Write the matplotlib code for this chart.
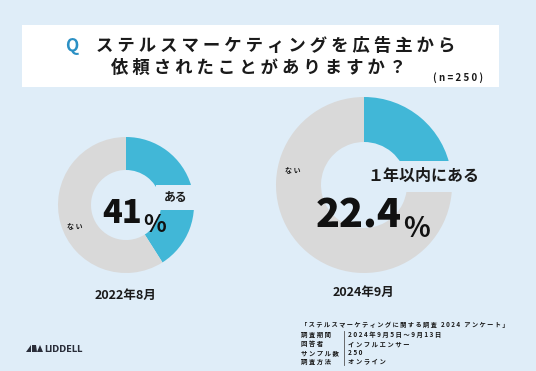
import matplotlib.pyplot as plt
from matplotlib.patches import Rectangle

plt.rcParams['font.family'] = ['Noto Sans CJK JP', 'DejaVu Sans']

# データ
labels = ['ある', 'ない']
vals_2022 = [41, 59]
vals_2024 = [22.4, 77.6]
periods = ['2022年8月', '2024年9月']
survey_title = '「ステルスマーケティングに関する調査 2024 アンケート」'
survey_keys = ['調査期間', '回答者', 'サンプル数', '調査方法']
survey_vals = ['2024年9月5日～9月13日', 'インフルエンサー', '250', 'オンライン']

bg = '#dfedf8'
blue = '#41b7d7'
gray = '#d9d9d9'
ink = '#1a1a1a'

W, H = 536, 371
def Y(y):
    return H - y

def spaced(s):
    # 字間を空ける
    return ' '.join(s)

fig = plt.figure(figsize=(W / 100, H / 100), dpi=100, facecolor=bg)
ax = fig.add_axes([0, 0, 1, 1])
ax.set_facecolor(bg)

# タイトル
ax.add_patch(Rectangle((22, Y(87)), 477, 62, facecolor='white', edgecolor='none'))
ax.text(72, Y(46), 'Q', color='#2b90c4', fontsize=12.5, fontweight='bold',
        ha='center', va='center')
ax.text(96, Y(46), spaced('ステルスマーケティングを広告主から'), color=ink,
        fontsize=12.5, fontweight='bold', ha='left', va='center')
ax.text(259, Y(68), spaced('依頼されたことがありますか？'), color=ink,
        fontsize=12.5, fontweight='bold', ha='center', va='center')
ax.text(458, Y(78), spaced('(n=250)'), color=ink, fontsize=7, fontweight='bold',
        ha='center', va='center')

# ドーナツ
ax.pie(vals_2022, colors=[blue, gray], startangle=90, counterclock=False,
       center=(126, Y(205)), radius=68, frame=True,
       wedgeprops=dict(width=33, edgecolor='none'))
ax.pie(vals_2024, colors=[blue, gray], startangle=90, counterclock=False,
       center=(364, Y(185)), radius=88, frame=True,
       wedgeprops=dict(width=45, edgecolor='none'))

# ラベル用の切り欠き
ax.add_patch(Rectangle((156, Y(210)), 48, 25, facecolor=bg, edgecolor='none', zorder=3))
ax.add_patch(Rectangle((362, Y(192)), 120, 31, facecolor=bg, edgecolor='none', zorder=3))

ax.text(176, Y(198), labels[0], color=ink, fontsize=8.5, fontweight='bold',
        ha='center', va='center', zorder=4)
ax.text(423, Y(176), '１年以内に' + labels[0], color=ink, fontsize=11.5,
        fontweight='bold', ha='center', va='center', zorder=4)
ax.text(75, Y(227), spaced(labels[1]), color=ink, fontsize=5, fontweight='bold',
        ha='center', va='center')
ax.text(293, Y(170), spaced(labels[1]), color=ink, fontsize=5, fontweight='bold',
        ha='center', va='center')

# 中央の数値
ax.text(142, Y(223), f'{vals_2022[0]}', color='#111111', fontsize=23.5,
        fontweight='heavy', ha='right', va='baseline', zorder=4)
ax.text(143, Y(232), '%', color='#111111', fontsize=17, fontweight='bold',
        ha='left', va='baseline', zorder=4)
ax.text(402, Y(228), f'{vals_2024[0]}', color='#111111', fontsize=28.5,
        fontweight='heavy', ha='right', va='baseline', zorder=4)
ax.text(403, Y(237), '%', color='#111111', fontsize=20, fontweight='bold',
        ha='left', va='baseline', zorder=4)

ax.text(126, Y(295), periods[0], color=ink, fontsize=9, fontweight='bold',
        ha='center', va='center')
ax.text(363, Y(292), periods[1], color=ink, fontsize=9, fontweight='bold',
        ha='center', va='center')

# 調査概要
ax.text(301, Y(324), spaced(survey_title), color=ink, fontsize=4.5, fontweight='bold',
        ha='left', va='center')
for i, (k, v) in enumerate(zip(survey_keys, survey_vals)):
    yy = Y(335 + i * 8.7)
    ax.text(301, yy, spaced(k), color=ink, fontsize=4.6, fontweight='bold',
            ha='left', va='center')
    ax.text(348, yy, spaced(v), color=ink, fontsize=4.6, fontweight='bold',
            ha='left', va='center')
ax.plot([344, 344], [Y(331), Y(365)], color='#555555', linewidth=0.6)

# ロゴ
ax.fill([26, 31, 31, 26], [Y(352), Y(345), Y(352), Y(352)], color='#2a2e3a', linewidth=0)
ax.fill([32, 36, 37, 32], [Y(345), Y(345), Y(352), Y(352)], color='#2a2e3a', linewidth=0)
ax.fill([37, 40, 43, 37], [Y(352), Y(345), Y(352), Y(352)], color='#2a2e3a', linewidth=0)
ax.text(44, Y(349), 'LIDDELL', color='#2a2e3a', fontsize=6, fontweight='bold',
        family='DejaVu Sans', ha='left', va='center')

ax.set_xlim(0, W)
ax.set_ylim(0, H)
ax.set_aspect('equal')
ax.axis('off')

fig.savefig('out.png', dpi=100, facecolor=bg)
